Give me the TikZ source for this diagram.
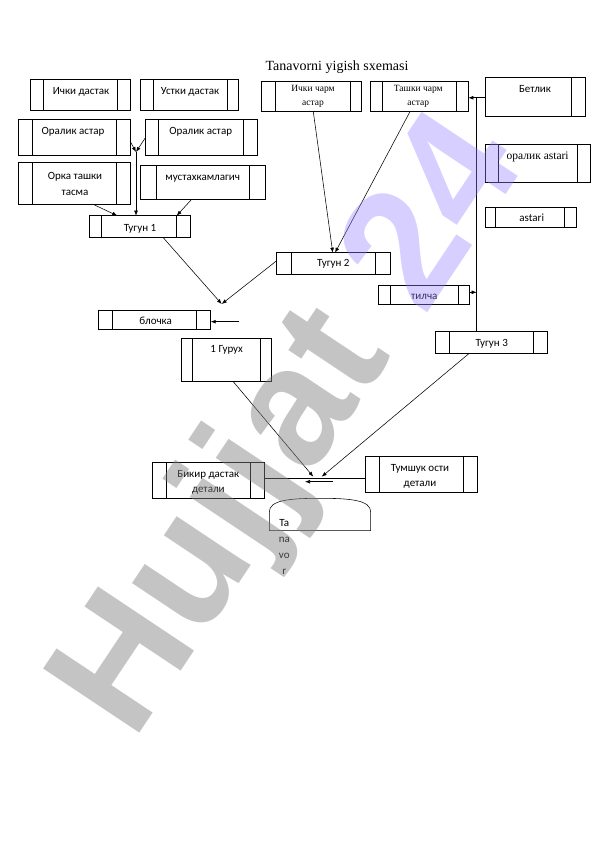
\documentclass[tikz,border=0pt]{standalone}
\usepackage{fontspec}
\setmainfont{Carlito}
\newfontfamily\serifa{Liberation Serif}
\newfontfamily\wmfont{Liberation Sans}
\usetikzlibrary{arrows.meta}
\definecolor{wmgray}{RGB}{128,128,128}
\definecolor{wmpurple}{RGB}{150,130,255}
\tikzset{
  pbox/.style={draw, line width=0.6pt, inner sep=0pt, outer sep=0pt},
  conn/.style={line width=0.55pt},
  arr/.style={conn, -{Latex[length=5pt,width=3.8pt]}},
  lbl/.style={font=\fontsize{11}{13.5}\selectfont, inner sep=0pt, anchor=base},
  lblc/.style={font=\fontsize{11}{15.5}\selectfont, inner sep=0pt, align=center},
  slbl/.style={font=\serifa\fontsize{9.5}{13.4}\selectfont, inner sep=0pt, align=center},
  wmark/.style={font=\wmfont\bfseries\fontsize{168}{168}\selectfont, inner sep=0pt, anchor=base west, rotate=56.3},
}
\newcommand\procbox[7]{%
  \pgfmathsetmacro\pbw{#4-#2}%
  \pgfmathsetmacro\pbh{#5-#3}%
  \pgfmathsetmacro\pbl{#6-#2}%
  \pgfmathsetmacro\pbr{#4-#7}%
  \node[pbox, minimum width=\pbw pt, minimum height=\pbh pt] (#1) at ({(#2+#4)/2},{(#3+#5)/2}) {};
  \draw[line width=0.6pt] ([xshift=\pbl pt]#1.north west) -- ([xshift=\pbl pt]#1.south west);
  \draw[line width=0.6pt] ([xshift=-\pbr pt]#1.north east) -- ([xshift=-\pbr pt]#1.south east);
}
\begin{document}
\begin{tikzpicture}[x=1pt,y=-1pt]
\useasboundingbox[fill=white] (0,0) rectangle (596,842);

% title
\node[font=\serifa\fontsize{14}{16}\selectfont, inner sep=0pt, anchor=base] (title) at (337,71) {Tanavorni yigish sxemasi};

% boxes
\procbox{ichD}{30.7}{79}{130}{110.7}{43.3}{117.3}
\procbox{ustD}{140}{79}{238.3}{110.7}{153.3}{227.3}
\procbox{ichCh}{261.7}{81.7}{361.7}{111.7}{275}{350}
\procbox{tashCh}{370}{81.7}{468.3}{111.7}{382.7}{456.7}
\procbox{betlik}{485}{77.7}{585}{116}{485}{571.7}
\procbox{oralL}{18.3}{119.3}{130}{155.7}{32.7}{116.7}
\procbox{oralR}{145}{119.3}{257.3}{155.7}{158.3}{243.3}
\procbox{orka}{18.3}{162.3}{130}{204.3}{32.7}{116}
\procbox{mus}{140}{165}{265}{199.3}{156.7}{249.3}
\procbox{oralA}{485}{144.3}{590}{182.3}{498.3}{577.7}
\procbox{astari}{485}{207.7}{576.7}{227.3}{495.7}{564.3}
\procbox{tug1}{89.3}{215.7}{190}{237.7}{101.7}{176.7}
\procbox{tug2}{276.7}{252.7}{390}{274.3}{291}{375.7}
\procbox{tilcha}{378.3}{285}{469.3}{304}{390.7}{458.3}
\procbox{bloch}{98.3}{310}{210.7}{329.3}{112.7}{196}
\procbox{tug3}{435}{331}{547.3}{353.3}{449.3}{533.3}
\procbox{gur}{181.7}{338.3}{271.7}{381.7}{192.3}{260.7}
\procbox{bik}{152.7}{462.3}{264}{498.3}{166.7}{250}
\procbox{tum}{365.7}{456}{477.3}{492.7}{379}{463.3}

% labels
\node[lbl] (ichD-t) at (81,94.5) {Ички дастак};
\node[lbl] (ustD-t) at (190,94.5) {Устки дастак};
\node[slbl] (ichCh-t) at (313,96.3) {Ички чарм\\астар};
\node[slbl] (tashCh-t) at (418.3,96.3) {Ташки чарм\\астар};
\node[lbl] (betlik-t) at (535,92.8) {Бетлик};
\node[lbl] (oralL-t) at (73,134.5) {Оралик астар};
\node[lbl] (oralR-t) at (200.7,134.5) {Оралик астар};
\node[lblc] (orka-t) at (75,184) {Орка ташки\\тасма};
\node[lbl] (mus-t) at (202.7,180.2) {мустахкамлагич};
\node[lbl, font=\serifa\fontsize{11.5}{13}\selectfont] (oralA-t) at (537.7,160) {оралик astari};
\node[lbl] (astari-t) at (531.7,221.8) {astari};
\node[lbl] (tug1-t) at (140,231.2) {Тугун 1};
\node[lbl] (tug2-t) at (333.3,266.8) {Тугун 2};
\node[lbl] (tilcha-t) at (424.3,299.3) {тилча};
\node[lbl] (bloch-t) at (155.7,324.8) {блочка};
\node[lbl] (tug3-t) at (491.7,346.2) {Тугун 3};
\node[lbl] (gur-t) at (226.7,352.8) {1 Гурух};
\node[lblc, font=\fontsize{11}{15}\selectfont] (bik-t) at (208.3,482.3) {Бикир дастак\\детали};
\node[lblc, font=\fontsize{11}{15}\selectfont] (tum-t) at (420,476.8) {Тумшук ости\\детали};

% Tanavor shape
\draw[conn] (269.3,530.7) -- (269.3,512) .. controls (269.3,500) and (290,498.3) .. (320,498.3)
  .. controls (350,498.3) and (370.7,500) .. (370.7,512) -- (370.7,530.7) -- cycle;
\node[lblc, font=\fontsize{11}{15.8}\selectfont] (tan-t) at (284.3,547) {Ta\\na\\vo\\r};

% connectors
\coordinate (j1) at (136,152);
\draw[arr] ([yshift=-3.5pt]oralL.east) -- (j1);
\draw[arr] ([yshift=-0.8pt]oralR.west) -- (j1);
\draw[arr] (j1) -- (j1 |- tug1.north);
\draw[arr] ([xshift=19pt]orka.south) -- ([xshift=-22.4pt]tug1.north);
\draw[arr] ([xshift=-10.8pt]mus.south) -- ([xshift=37pt]tug1.north);

\coordinate (j2) at (221.7,304);
\draw[arr] ([xshift=23.6pt]tug1.south) -- (j2);
\draw[arr] ([yshift=2.8pt]tug2.west) -- (j2);
\coordinate (bl) at (239.3,321.7);
\draw[arr] (bl) -- (bl -| bloch.east);

\draw[arr] ([xshift=1.6pt]ichCh.south) -- ([xshift=-0.6pt]tug2.north);
\draw[arr] ([xshift=-9.2pt]tashCh.south) -- ([xshift=1.7pt]tug2.north);

\coordinate (ha) at ([yshift=-0.9pt]betlik.west);
\draw[arr] (ha) -- (ha -| tashCh.east);
\coordinate (v3) at ([xshift=-14.5pt]tug3.north);
\draw[conn] (v3) -- (v3 |- ha);
\draw[arr] ([yshift=2.2pt]tilcha.east) -- ([yshift=2.2pt]tilcha.east -| v3);

\coordinate (j3a) at (313.3,476.7);
\coordinate (j3b) at (321.7,476.7);
\draw[arr] ([xshift=6.6pt]gur.south) -- (j3a);
\draw[arr] ([xshift=-21.9pt]tug3.south) -- (j3b);
\coordinate (hl) at (300,478.3);
\draw[conn] (hl -| bik.east) -- (hl -| tum.west);
\coordinate (sa) at (332.7,481.7);
\coordinate (sb) at (305,481.7);
\draw[arr] (sa) -- (sb);

% watermark
\node[wmark, text=wmgray, text opacity=0.46] (wm1) at (133,743) {Hujjat};
\node[wmark, text=wmpurple, text opacity=0.38] (wm2) at (424,318) {24};
\end{tikzpicture}
\end{document}
